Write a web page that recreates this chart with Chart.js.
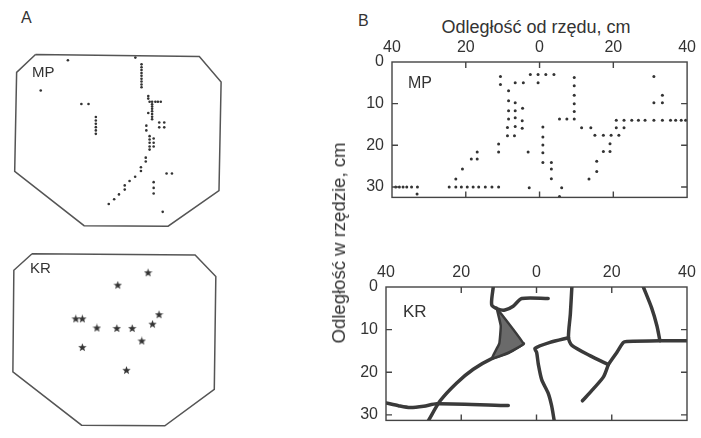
<!DOCTYPE html>
<html>
<head>
<meta charset="utf-8">
<script src="https://cdn.jsdelivr.net/npm/chart.js@4.4.0/dist/chart.umd.min.js"></script>
<style>
body { margin: 0; background: #fff; width: 701px; height: 438px; position: relative; overflow: hidden;
       font-family: "Liberation Sans", Arial, sans-serif; color: #333; }
canvas { position: absolute; }
.lbl { position: absolute; line-height: 1; white-space: nowrap; }
</style>
</head>
<body>
<div class="lbl" style="left:21px;top:10px;font-size:16px">A</div>
<div class="lbl" style="left:358px;top:13px;font-size:16px">B</div>
<div class="lbl" style="left:536px;top:18px;font-size:18px;transform:translateX(-50%)">Odległość od rzędu, cm</div>
<div class="lbl" style="left:339px;top:243px;font-size:18px;color:#333;will-change:transform;transform:translate(-50%,-50%) rotate(-90deg) scaleX(1.03)">Odległość w rzędzie, cm</div>

<canvas id="aMP" width="220" height="190" style="left:8px;top:45px"></canvas>
<canvas id="aKR" width="220" height="190" style="left:8px;top:245px"></canvas>
<canvas id="bMP" width="361" height="185" style="left:340px;top:30px"></canvas>
<canvas id="bKR" width="371" height="183" style="left:330px;top:255px"></canvas>

<div class="lbl" style="left:32px;top:64px;font-size:15px">MP</div>
<div class="lbl" style="left:30px;top:260px;font-size:15px">KR</div>
<div class="lbl" style="left:408px;top:75px;font-size:16px">MP</div>
<div class="lbl" style="left:403px;top:303px;font-size:17px">KR</div>

<script>
// A: plot outlines and plant positions, cm from the plot corner
const outlineMP = [[12.2,2.9],[97.2,3.9],[108.5,17.2],[107.4,73.9],[81,92.5],[37.4,92.2],[1.4,63.9],[2.4,12.2],[12.2,2.9]];
const outlineKR = [[10.2,2.2],[95.2,2.9],[106,14.2],[105.2,73.4],[79.4,92.5],[36,92.2],[0.2,64.2],[0.7,10.9],[10.2,2.2]];

const plantsMP = [
  [29,5.9],[64,4.5],[14.9,21.7],
  [67.2,8],[67.2,9.5],[67.2,11],[67.2,12.5],[67.2,14],[67.2,15.5],[67.2,17],[67.2,18.5],[67.2,20],
  [36,28.7],[39.7,28.7],
  [43.5,35.5],[43.5,37.3],[43.5,39],[43.5,40.8],[43.5,42.5],[43.5,44.3],
  [70.7,24.5],[70.7,25.9],
  [71.4,27.5],[72.7,27.5],[74.4,27.5],[75.7,27.5],[77.2,27.5],
  [72.7,28.9],[72.7,30],[72.7,31.2],[72.7,32.5],[72.7,33.9],[72.7,35.4],[72.7,36.7],
  [70.7,33.4],[69.7,40],[69.7,42.5],
  [76.4,38.4],[79,38.4],[76.4,40.9],[79,40.9],
  [71.4,45.5],[71.4,47.2],[71.4,48.9],[71.4,50.9],[71.4,52.5],
  [73.5,46.7],[73.5,48.9],[73.5,50.9],
  [69.4,56.7],[69.4,58.7],[66.9,61.7],[66.9,63.7],[63.9,66.7],[61,68.9],
  [58.5,71.2],[58.5,73.4],[55.5,75.9],[53,78.4],[50.2,80.9],
  [80.2,65],[83,65],
  [73.5,69.5],[73.5,72.5],[73.5,75.4],
  [78.2,85]
];
const plantsKR = [
  [70.7,12.2],[54.9,18.7],[33,36.4],[36.4,36.4],[44,41.2],[54.4,41.4],
  [62.4,41.4],[73,39.2],[76.4,34.2],[67.4,48],[36.4,51.4],[59.4,63.4]
];

// B: distance from the row (x) and along the row (y), cm
const xTicksB = [-40, -20, 0, 20, 40];
const yTicksB = [0, 10, 20, 30];
const innerXTicks = [-20, 0, 20];
const innerYTicks = [10, 20, 30];

const rootsMP = [
  [-2.5,3],[-0.4,3],[1.7,3],[3.9,3],[-10.6,3.5],[9.4,3.7],[31,3.5],
  [-10.6,5.4],[-6.6,5],[-4.4,5],[-0.4,5],[9.4,5.7],[-8.4,6.9],
  [33.3,8],[9.4,8],
  [-8.4,9.3],[-6.6,9.8],[31,9.8],[33.3,9.8],[9.4,10],
  [-8.4,11.7],[-6.6,11.7],[-4.6,11.1],[9.4,11.9],
  [-8.4,13.7],[-6.6,13.4],[-4.7,14.1],[5.4,13.7],[7.4,13.7],[9.4,13.7],
  [20.8,14],[22.9,14],[25,14],[26.8,14],[28.6,14],[31,14],[33.3,14],[35.5,14],[36.9,14],[38.4,14],[39.6,14],
  [-8.7,15.7],[-6.6,15.5],[-4.7,15.9],[0.9,15.6],[11.4,15.8],[13.9,15.8],[20.8,15.8],[22.9,15.8],
  [-8.7,17.7],[-6.8,17.7],[0.9,18],[15,17.6],[17.3,17.6],[19.4,17.6],[21.5,17.6],
  [-11.1,19.7],[0.9,19.9],[19.1,19.6],
  [-16.9,21.6],[-11.1,21.6],[-3.1,21.6],[0.9,21.8],[17.3,21.5],[19.1,21.5],
  [-18.5,23.3],[-16.9,23.3],[0.9,24.1],[3.2,24.1],[15.5,23.8],
  [-20.9,25.7],[3.2,25.7],[15.5,26.3],
  [-22.7,28.1],[3.2,28],[13.4,28.1],
  [-24.5,30],[-22.7,30],[-21.2,30],[-19.6,30],[-18,30],[-16.5,30],[-14.7,30],[-12.9,30],[-11.1,30],
  [-39,30],[-38,30],[-37,30],[-36,30],[-34.7,30],[-33.1,30],
  [-33.2,31.7],[-2.8,30.2],[6,30.2],[5.4,32.3]
];

const krLineA = [[-11.5,0],[-11.9,4.2],[-10.2,5.2],[-8.4,5.4],[-6.2,4.5],[-3.9,2.7],[3.1,2.7]];
const krPatch = [[-10.6,4.9],[-9.5,9.1],[-9.9,13.3],[-11.9,16.8],[-7.5,15.4],[-3.5,13.3],[-10.6,4.9]];
const krLineB = [[-28.7,31.3],[-25.6,26.7],[-21.2,22.5],[-16.8,19.3],[-11.9,16.8],[-7.5,15.4],[-3.5,13.3]];
const krLineC = [[-40,27.2],[-36.5,27.9],[-33.6,28.3],[-30,28],[-26.5,27.4],[-7.5,27.8]];
const krLineD = [[8.5,11.9],[3.6,13],[-0.4,14.4],[0.05,15.4],[0.5,18.2],[1.4,21.8],[3.1,24.9],[4,27.8],[4.7,31.3]];
const krLineE = [[9.4,0],[9,6.3],[8.5,11.9],[9.4,13.7],[14.2,16.1],[19.1,18.2]];
const krLineF = [[19.1,18.2],[21.3,15.4],[23.1,13],[24,12.8],[32.8,12.6],[40,12.6]];
const krLineG = [[19.1,18.2],[17.8,21.1],[15.1,23.9],[12.2,26.7]];
const krLineH = [[28.4,0],[30.6,4.9],[32,9.1],[32.8,12.6]];

const pts = a => a.map(([x, y]) => ({x, y}));
const ink = '#333';
const tickFont = {family: 'Liberation Sans', size: 16};

// filled five-point star used as point style
const star = document.createElement('canvas');
star.width = 9; star.height = 9;
(() => {
  const c = star.getContext('2d');
  c.fillStyle = ink;
  c.beginPath();
  for (let i = 0; i < 10; i++) {
    const r = i % 2 ? 1.9 : 4.4;
    const a = -Math.PI / 2 + i * Math.PI / 5;
    c.lineTo(4.5 + r * Math.cos(a), 4.7 + r * Math.sin(a));
  }
  c.closePath();
  c.fill();
})();

// box round the plot area with short ticks pointing inwards
const frame = {
  id: 'frame',
  afterDraw(chart) {
    const {ctx, chartArea: a, scales: {x, y}} = chart;
    ctx.save();
    ctx.strokeStyle = '#444';
    ctx.lineWidth = 1.4;
    ctx.strokeRect(a.left, a.top, a.right - a.left, a.bottom - a.top);
    ctx.beginPath();
    innerXTicks.forEach(v => {
      const px = x.getPixelForValue(v);
      ctx.moveTo(px, a.top); ctx.lineTo(px, a.top + 6);
      ctx.moveTo(px, a.bottom); ctx.lineTo(px, a.bottom - 6);
    });
    innerYTicks.forEach(v => {
      const py = y.getPixelForValue(v);
      if (py > a.bottom) return;
      ctx.moveTo(a.left, py); ctx.lineTo(a.left + 6, py);
      ctx.moveTo(a.right, py); ctx.lineTo(a.right - 6, py);
    });
    ctx.stroke();
    ctx.restore();
  }
};

function plotA(id, outline, marks, markStyle) {
  new Chart(document.getElementById(id), {
    type: 'scatter',
    data: {
      datasets: [
        {data: pts(outline), showLine: true, borderColor: '#555', borderWidth: 1.5, pointRadius: 0, clip: false},
        Object.assign({data: pts(marks), backgroundColor: ink, borderWidth: 0}, markStyle)
      ]
    },
    options: {
      responsive: false, animation: false,
      plugins: {legend: {display: false}, tooltip: {enabled: false}},
      scales: {
        x: {display: false, min: 0, max: 110},
        y: {display: false, min: 0, max: 95, reverse: true}
      }
    }
  });
}

function bOptions(yMax, yWidth, padRight, padBottom) {
  return {
    responsive: false, animation: false,
    layout: {padding: {left: 0, top: 0, right: padRight, bottom: padBottom}},
    plugins: {legend: {display: false}, tooltip: {enabled: false}},
    scales: {
      x: {
        type: 'linear', position: 'top', min: -40, max: 40,
        afterBuildTicks: s => { s.ticks = xTicksB.map(v => ({value: v})); },
        afterFit: s => { s.height = 32; },
        grid: {display: false, drawTicks: false}, border: {display: false},
        ticks: {padding: 5, color: ink, font: tickFont, maxRotation: 0, autoSkip: false,
                callback: v => Math.abs(v)}
      },
      y: {
        type: 'linear', position: 'left', min: 0, max: yMax, reverse: true,
        afterBuildTicks: s => { s.ticks = yTicksB.map(v => ({value: v})); },
        afterFit: s => { s.width = yWidth; },
        grid: {display: false, drawTicks: false}, border: {display: false},
        ticks: {padding: 8, color: ink, font: tickFont, autoSkip: false}
      }
    }
  };
}

plotA('aMP', outlineMP, plantsMP, {pointRadius: 1.3});
plotA('aKR', outlineKR, plantsKR, {pointStyle: star, pointRadius: 4.5});

new Chart(document.getElementById('bMP'), {
  type: 'scatter',
  data: {datasets: [{data: pts(rootsMP), pointRadius: 1.5, backgroundColor: ink, borderWidth: 0}]},
  options: bOptions(32.5, 52, 10, 8),
  plugins: [frame]
});

const rootLine = d => ({
  data: pts(d), showLine: true, borderColor: '#3a3a3a', borderWidth: 3.5, pointRadius: 0,
  tension: 0.25, borderCapStyle: 'round', borderJoinStyle: 'round'
});

new Chart(document.getElementById('bKR'), {
  type: 'scatter',
  data: {
    datasets: [
      Object.assign(rootLine(krPatch), {fill: 'shape', backgroundColor: '#6a6a6a', borderWidth: 2.5, tension: 0.1}),
      rootLine(krLineA), rootLine(krLineB), rootLine(krLineC), rootLine(krLineD),
      rootLine(krLineE), rootLine(krLineF), rootLine(krLineG), rootLine(krLineH)
    ]
  },
  options: bOptions(31.3, 56, 14, 3),
  plugins: [frame]
});
</script>
</body>
</html>
